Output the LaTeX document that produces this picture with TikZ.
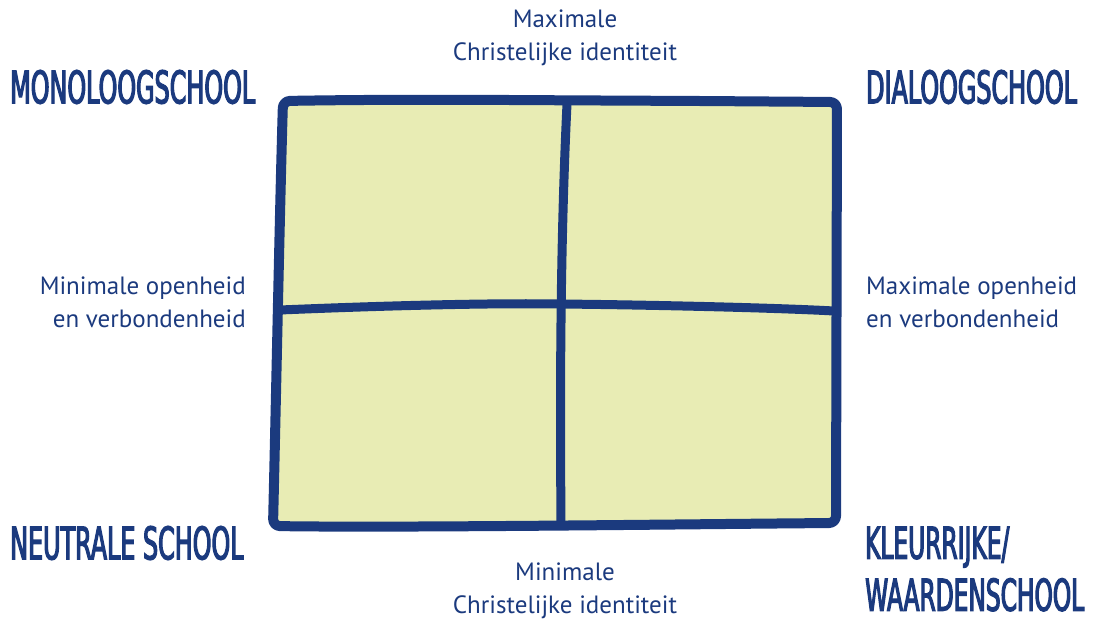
\documentclass[tikz,border=0pt]{standalone}
\usepackage{fontspec}
\usepackage{tikz}
\usetikzlibrary{positioning,calc}
\newfontfamily\bodyfont{PT Sans}
\newfontfamily\headfont[FakeStretch=0.53,FakeBold=2.5]{DejaVu Sans}
\definecolor{ncblue}{HTML}{1B3A7E}
\definecolor{ncfill}{HTML}{E8ECB4}

\begin{document}
\begin{tikzpicture}[x=1pt,y=-1pt,
  lbl/.style={text=ncblue,font=\bodyfont\fontsize{25}{33}\selectfont,inner sep=0pt},
  kop/.style={text=ncblue,font=\headfont\fontsize{45}{52}\selectfont,inner sep=0pt,align=left},
  rand/.style={draw=ncblue,line width=10pt,rounded corners=7pt,line join=round,line cap=round},
  as/.style={draw=ncblue,line width=9pt}
]
\useasboundingbox (0,0) rectangle (1095,620);

% hoekpunten van het kwadrant
\coordinate (lb) at (283,101);
\coordinate (rb) at (837,102);
\coordinate (ro) at (836,523);
\coordinate (lo) at (273,526);

% vlak en rand
\fill[ncfill] (lb) -- (rb) -- (ro) -- (lo) -- cycle;
\draw[rand] (700,101) -- (rb)
  -- (ro) .. controls (700,524) and (400,528) .. (lo)
  .. controls (276,400) and (280,200) .. (lb)
  .. controls (400,99) and (500,100) .. (600,100.5) -- cycle;

% assen
\draw[as] (567,104) .. controls (560,250) and (560,400) .. (561,523);
\draw[as] (280,310) .. controls (400,305) and (500,303) .. (560,304)
  .. controls (660,305) and (780,308) .. (834,311);

% assenlabels
\node[lbl,align=center] (maxid) at (565,38) {Maximale\\Christelijke identiteit};
\node[lbl,align=center] (minid) at (565,591) {Minimale\\Christelijke identiteit};
\node[lbl,align=right,anchor=east] (minopen) at (246,302) {Minimale openheid\\en verbondenheid};
\node[lbl,align=left,anchor=west] (maxopen) at (866,302) {Maximale openheid\\en verbondenheid};

% schooltypen
\node[kop,anchor=west] (mono) at (10,87) {MONOLOOGSCHOOL};
\node[kop,anchor=west] (dia) at (866,87) {DIALOOGSCHOOL};
\node[kop,anchor=west] (neutraal) at (10,543) {NEUTRALE SCHOOL};
\node[kop,font=\headfont\fontsize{44}{52}\selectfont,text depth=0pt,anchor=south west] (kleur) at (865,611) {KLEURRIJKE/\\WAARDENSCHOOL};
\end{tikzpicture}
\end{document}
